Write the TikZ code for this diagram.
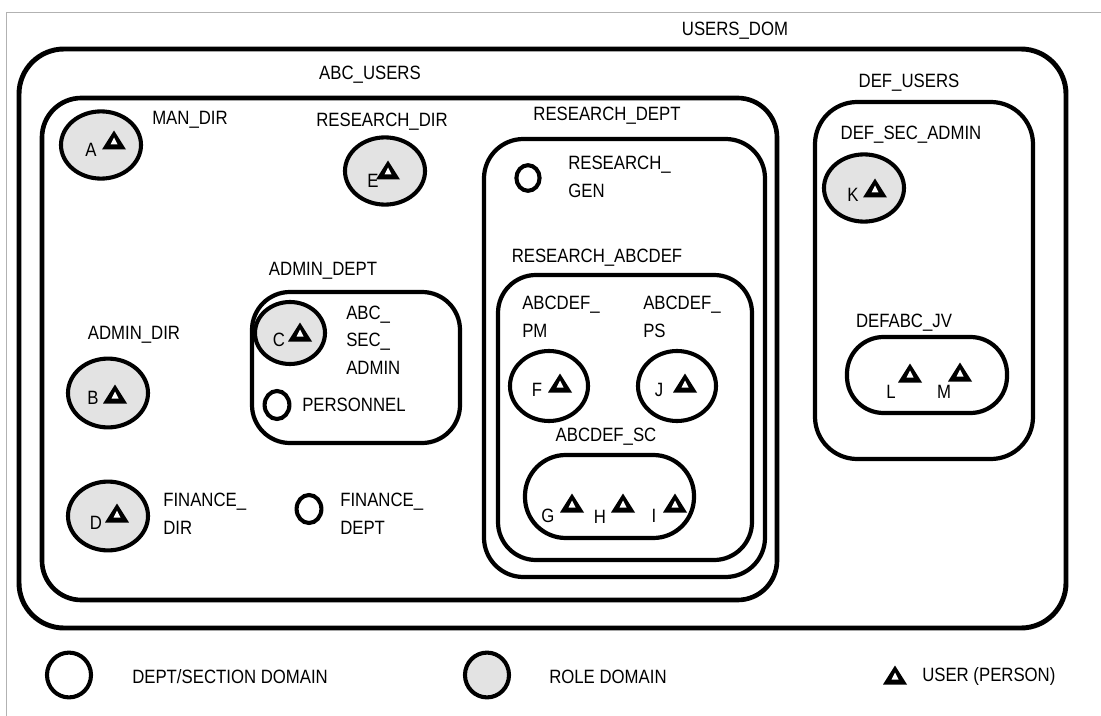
\documentclass[tikz,border=0pt]{standalone}
\usepackage{fontspec}
\setmainfont[FakeStretch=0.87]{Liberation Sans}
\usetikzlibrary{positioning,shapes.geometric,fit}
\newcommand\lblsize{\fontsize{13.7pt}{19.6pt}\selectfont}

\begin{document}
\begin{tikzpicture}[
  x=0.025cm, y=-0.025cm,
  every node/.style={font=\lblsize, inner sep=0pt},
  dom/.style={draw, line width=3pt, rounded corners=28pt, inner sep=0pt},
  outerdom/.style={dom, line width=3.5pt, rounded corners=32pt},
  role/.style={ellipse, draw, line width=2.9pt, fill=black!11, minimum width=2cm, minimum height=1.68cm},
  sect/.style={ellipse, draw, line width=2.9pt, fill=white, minimum width=0.62cm, minimum height=0.7cm},
  multi/.style={anchor=west, align=left},
  user/.pic={
    \fill (0,-9.5) -- (12,9.5) -- (-12,9.5) -- cycle;
    \fill[white] (0,-2.5) -- (3.5,4.5) -- (-3.5,4.5) -- cycle;
  }
]
\useasboundingbox (0,0) rectangle (1101,716);
\draw[black!30, line width=0.7pt] (6,716) -- (6,12) -- (1101,12);

\node[outerdom, fit={(19,49) (1066,628)}] (usersdom) {};
\node (usersdomlbl) at (735,31) {USERS\_DOM};

\node[dom, line width=3.3pt, fit={(42,98) (777,600)}] (abcusers) {};
\node (abcuserslbl) at (370,75) {ABC\_USERS};

\node[dom, rounded corners=30pt, fit={(815,102) (1033,459)}] (defusers) {};
\node (defuserslbl) at (909,83) {DEF\_USERS};

\node[role] (mandir) at (101,145) {};
\node (mandirlbl) at (190,120) {MAN\_DIR};
\node (usera) at (91,150) {A};
\pic (tria) at (114,140) {user};

\node[role] (researchdir) at (385,171) {};
\node (researchdirlbl) at (382,122) {RESEARCH\_DIR};
\node (usere) at (373,181) {E};
\pic (trie) at (388,170) {user};

\node[role, minimum height=1.72cm] (admindir) at (108,393) {};
\node (admindirlbl) at (134,335) {ADMIN\_DIR};
\node (userb) at (93,398) {B};
\pic (trib) at (115,394) {user};

\node[role, minimum height=1.72cm] (financedir) at (108,516) {};
\node[multi] (financedirlbl) at (163,514) {FINANCE\_\\DIR};
\node (userd) at (96,523) {D};
\pic (trid) at (117,513) {user};

\node[sect] (financedept) at (309,509) {};
\node[multi] (financedeptlbl) at (340,514) {FINANCE\_\\DEPT};

\node[dom, rounded corners=27pt, fit={(252,292) (460,443)}] (admindept) {};
\node (admindeptlbl) at (323,271) {ADMIN\_DEPT};
\node[role, minimum width=1.75cm, minimum height=1.55cm] (abcsecadmin) at (290,333) {};
\node[multi] (abcsecadminlbl) at (346,340) {ABC\_\\SEC\_\\ADMIN};
\node (userc) at (279,340) {C};
\pic (tric) at (300,332) {user};
\node[sect] (personnel) at (277,405) {};
\node[anchor=west] (personnellbl) at (302,405) {PERSONNEL};

\node[dom, fit={(484,139) (765,577)}] (researchdept) {};
\node (researchdeptlbl) at (607,116) {RESEARCH\_DEPT};
\node[sect, minimum width=0.58cm, minimum height=0.64cm] (researchgen) at (528,178) {};
\node[multi] (researchgenlbl) at (568,177) {RESEARCH\_\\GEN};

\node[dom, rounded corners=27pt, fit={(498,275) (752,560)}] (researchabcdef) {};
\node (researchabcdeflbl) at (597,258) {RESEARCH\_ABCDEF};

\node[sect, minimum width=1.95cm, minimum height=1.75cm] (abcdefpm) at (549,386) {};
\node[multi] (abcdefpmlbl) at (522,317) {ABCDEF\_\\PM};
\node (userf) at (537,390) {F};
\pic (trif) at (560,383) {user};

\node[sect, minimum width=1.95cm, minimum height=1.75cm] (abcdefps) at (677,386) {};
\node[multi] (abcdefpslbl) at (643,317) {ABCDEF\_\\PS};
\node (userj) at (659,390) {J};
\pic (trij) at (685,383) {user};

\node[dom, rounded corners=29pt, fit={(525,455) (694,538)}] (abcdefsc) {};
\node (abcdefsclbl) at (606,437) {ABCDEF\_SC};
\node (userg) at (548,516) {G};
\pic (trig) at (572,503) {user};
\node (userh) at (600,517) {H};
\pic (trih) at (623,503) {user};
\node (useri) at (654,516) {I};
\pic (trii) at (675,503) {user};

\node[role] (defsecadmin) at (864,188) {};
\node (defsecadminlbl) at (911,135) {DEF\_SEC\_ADMIN};
\node (userk) at (853,195) {K};
\pic (trik) at (875,188) {user};

\node[dom, rounded corners=26pt, fit={(847,337) (1007,413)}] (defabcjv) {};
\node (defabcjvlbl) at (904,323) {DEFABC\_JV};
\node (userl) at (891,392) {L};
\pic (tril) at (910,373) {user};
\node (userm) at (944,392) {M};
\pic (trim) at (960,372) {user};

\node[sect, minimum width=1.1cm, minimum height=1.12cm] (keydept) at (69,675) {};
\node[anchor=west] (keydeptlbl) at (132,677) {DEPT/SECTION DOMAIN};
\node[role, minimum width=1.1cm, minimum height=1.12cm] (keyrole) at (487,675) {};
\node[anchor=west] (keyrolelbl) at (549,677) {ROLE DOMAIN};
\pic (keyuser) at (895,675) {user};
\node[anchor=west] (keyuserlbl) at (922,677) {USER (PERSON)};
\end{tikzpicture}
\end{document}
